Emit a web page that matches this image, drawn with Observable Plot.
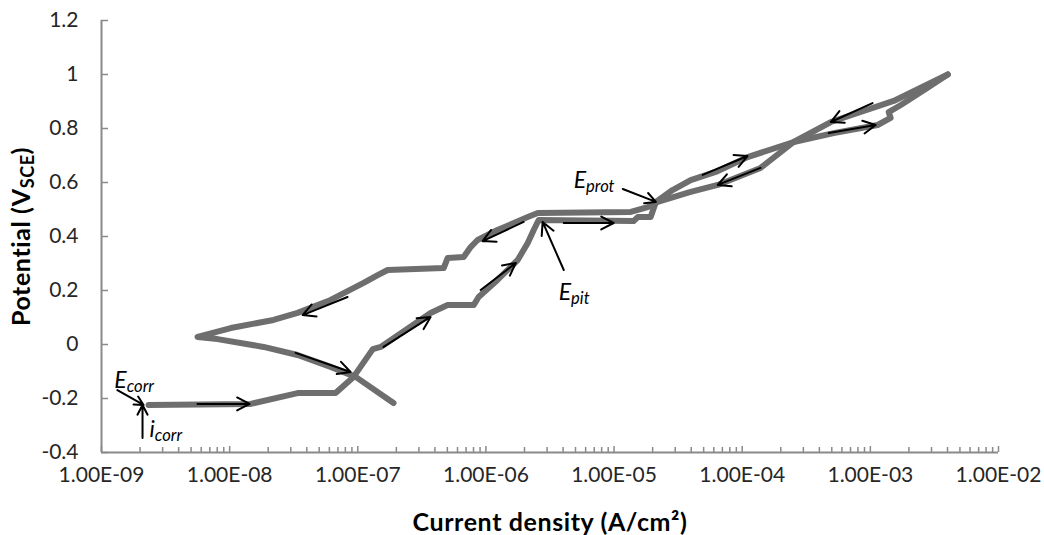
<!DOCTYPE html>
<html>
<head>
<meta charset="utf-8">
<script src="https://cdn.jsdelivr.net/npm/d3@7"></script>
<script src="https://cdn.jsdelivr.net/npm/@observablehq/plot@0.6"></script>
<style>
  body { margin: 0; background: #fff; }
  #chart svg { display: block; }
  #chart text.axis-title { letter-spacing: 0.6px; }
</style>
</head>
<body>
<div id="chart"></div>
<script>
// Cyclic polarization scan: forward (anodic) sweep, current density (A/cm²) and potential (V vs SCE)
const forwardI = [2.33e-9, 1.46e-8, 3.39e-8, 6.71e-8, 9.27e-8, 1.31e-7, 1.51e-7, 3.70e-7, 5.02e-7, 8.02e-7,
  8.77e-7, 1.23e-6, 1.77e-6, 2.12e-6, 2.36e-6, 2.58e-6, 1.42e-5, 1.53e-5, 1.93e-5, 2.12e-5,
  2.86e-5, 3.96e-5, 6.21e-5, 1.10e-4, 2.52e-4, 5.17e-4, 1.14e-3, 1.44e-3, 1.39e-3, 1.73e-3, 2.70e-3, 4.02e-3];
const forwardE = [-0.224, -0.220, -0.180, -0.180, -0.120, -0.017, -0.009, 0.117, 0.146, 0.146,
  0.176, 0.239, 0.313, 0.376, 0.424, 0.461, 0.457, 0.472, 0.472, 0.528,
  0.572, 0.609, 0.639, 0.694, 0.750, 0.783, 0.813, 0.839, 0.861, 0.887, 0.946, 1.000];

// Reverse sweep back from the vertex potential
const reverseI = [4.02e-3, 1.52e-3, 4.91e-4, 2.52e-4, 1.39e-4, 6.44e-5, 3.96e-5, 2.19e-5, 1.83e-5, 1.35e-5,
  2.54e-6, 2.12e-6, 1.23e-6, 8.61e-7, 7.60e-7, 6.70e-7, 5.02e-7, 4.68e-7, 1.71e-7, 1.43e-7,
  1.11e-7, 6.14e-8, 3.39e-8, 2.20e-8, 1.02e-8, 5.62e-9, 8.05e-9, 1.84e-8, 3.39e-8, 6.14e-8, 9.62e-8, 1.90e-7];
const reverseE = [1.000, 0.902, 0.824, 0.750, 0.654, 0.591, 0.565, 0.528, 0.509, 0.491,
  0.487, 0.472, 0.424, 0.387, 0.361, 0.324, 0.320, 0.283, 0.276, 0.257,
  0.228, 0.165, 0.117, 0.091, 0.061, 0.028, 0.020, -0.009, -0.039, -0.083, -0.120, -0.217];

// Direction arrows and label pointers (start → end, in data units)
const arrowI1 = [5.61e-9, 3.27e-8, 1.59e-7, 9.10e-7, 4.05e-6, 1.97e-6, 4.92e-5, 1.39e-4, 1.04e-3, 4.73e-4, 8.32e-8, 4.05e-6, 1.17e-5, 1.33e-9, 2.09e-9];
const arrowE1 = [-0.220, -0.031, -0.009, 0.202, 0.450, 0.454, 0.628, 0.654, 0.894, 0.783, 0.176, 0.276, 0.576, -0.169, -0.346];
const arrowI2 = [1.43e-8, 8.79e-8, 3.70e-7, 1.71e-6, 9.93e-6, 9.42e-7, 1.10e-4, 6.44e-5, 4.91e-4, 1.10e-3, 3.71e-8, 2.77e-6, 2.12e-5, 2.13e-9, 2.09e-9];
const arrowE2 = [-0.220, -0.102, 0.102, 0.302, 0.450, 0.383, 0.698, 0.591, 0.824, 0.813, 0.109, 0.454, 0.528, -0.224, -0.224];

// Characteristic points annotated on the curve
const labelText = ["E_{corr}", "i_{corr}", "E_{pit}", "E_{prot}"];
const labelI = [1.26e-9, 2.37e-9, 3.70e-6, 4.84e-6];
const labelE = [-0.161, -0.343, 0.165, 0.580];

// Axis ticks
const yTicks = [-0.4, -0.2, 0, 0.2, 0.4, 0.6, 0.8, 1, 1.2];
const yTickLabels = ["-0.4", "-0.2", "0", "0.2", "0.4", "0.6", "0.8", "1", "1.2"];
const xTicks = [1e-9, 1e-8, 1e-7, 1e-6, 1e-5, 1e-4, 1e-3, 1e-2];
const xTickLabels = ["1.00E-09", "1.00E-08", "1.00E-07", "1.00E-06", "1.00E-05", "1.00E-04", "1.00E-03", "1.00E-02"];
const xMinor = xTicks.slice(0, -1).flatMap(d => d3.range(2, 10).map(k => d * k));

const forward = forwardI.map((i, k) => ({i, e: forwardE[k]}));
const reverse = reverseI.map((i, k) => ({i, e: reverseE[k]}));
const arrows = arrowI1.map((d, k) => ({x1: d, y1: arrowE1[k], x2: arrowI2[k], y2: arrowE2[k]}));
const labels = labelText.map((t, k) => ({t, i: labelI[k], e: labelE[k]}));

const axisGray = "#8a8a8a";
const curveGray = "#6e6e6e";

const chart = Plot.plot({
  width: 1044,
  height: 535,
  marginLeft: 101,
  marginRight: 46,
  marginTop: 20,
  marginBottom: 83,
  style: {fontFamily: "Lato, 'Open Sans', sans-serif", fontSize: "21px", color: "#262626", background: "#fff"},
  x: {type: "log", domain: [1e-9, 1e-2]},
  y: {domain: [-0.4, 1.2]},
  marks: [
    // tick labels
    Plot.axisY({ticks: yTicks, tickSize: 0, tickPadding: 23, label: null, fontSize: 21,
      tickFormat: d => yTickLabels[yTicks.indexOf(d)]}),
    Plot.axisX({ticks: xTicks, tickSize: 0, tickPadding: 15, label: null, fontSize: 21,
      tickFormat: d => xTickLabels[xTicks.indexOf(d)]}),
    // inward tick marks
    Plot.axisY({ticks: yTicks, tickSize: 7, dx: 7, label: null, tickFormat: () => "",
      stroke: axisGray, strokeWidth: 1.5}),
    Plot.axisX({ticks: xTicks, tickSize: 6, dy: -6, label: null, tickFormat: () => "",
      stroke: axisGray, strokeWidth: 1.5}),
    Plot.axisX({ticks: xMinor, tickSize: 5, dy: -5, label: null, tickFormat: () => "",
      stroke: axisGray, strokeWidth: 1.5}),
    // axis lines
    Plot.ruleX([1e-9], {stroke: axisGray, strokeWidth: 2}),
    Plot.ruleY([-0.4], {stroke: axisGray, strokeWidth: 2}),
    // polarization curve
    Plot.line(forward, {x: "i", y: "e", stroke: curveGray, strokeWidth: 6, strokeLinejoin: "round", strokeLinecap: "round"}),
    Plot.line(reverse, {x: "i", y: "e", stroke: curveGray, strokeWidth: 6, strokeLinejoin: "round", strokeLinecap: "round"}),
    // scan direction arrows and pointers
    Plot.arrow(arrows, {x1: "x1", y1: "y1", x2: "x2", y2: "y2", stroke: "#000", strokeWidth: 2,
      headLength: 10.5, headAngle: 55}),
    // annotations
    Plot.text(labels, {x: "i", y: "e", text: "t", textAnchor: "start", lineAnchor: "bottom",
      fontStyle: "italic", fontSize: 23, fill: "#000"}),
    // axis titles
    Plot.text(["Potential (V_{SCE})"], {frameAnchor: "left", dx: -80, rotate: -90, text: d => d,
      fontWeight: "bold", fontSize: 25, fill: "#000", textAnchor: "middle", lineAnchor: "middle",
      className: "axis-title"}),
    Plot.text(["Current density (A/cm²)"], {frameAnchor: "bottom", dy: 70, text: d => d,
      fontWeight: "bold", fontSize: 25, fill: "#000", textAnchor: "middle", lineAnchor: "middle",
      className: "axis-title"})
  ]
});

// Axis title spacing
chart.querySelectorAll(".axis-title text").forEach(t => t.setAttribute("letter-spacing", "0.6"));

// Render "X_{sub}" as a subscript
chart.querySelectorAll("text").forEach(t => {
  const m = t.textContent.match(/^(.*?)_\{(.+?)\}(.*)$/);
  if (!m) return;
  const ns = "http://www.w3.org/2000/svg";
  t.textContent = "";
  const a = document.createElementNS(ns, "tspan"); a.textContent = m[1]; t.appendChild(a);
  const s = document.createElementNS(ns, "tspan"); s.textContent = m[2];
  s.setAttribute("font-size", "72%"); s.setAttribute("baseline-shift", "-4"); t.appendChild(s);
  if (m[3]) { const b = document.createElementNS(ns, "tspan"); b.textContent = m[3]; t.appendChild(b); }
});

document.getElementById("chart").appendChild(chart);
</script>
</body>
</html>
